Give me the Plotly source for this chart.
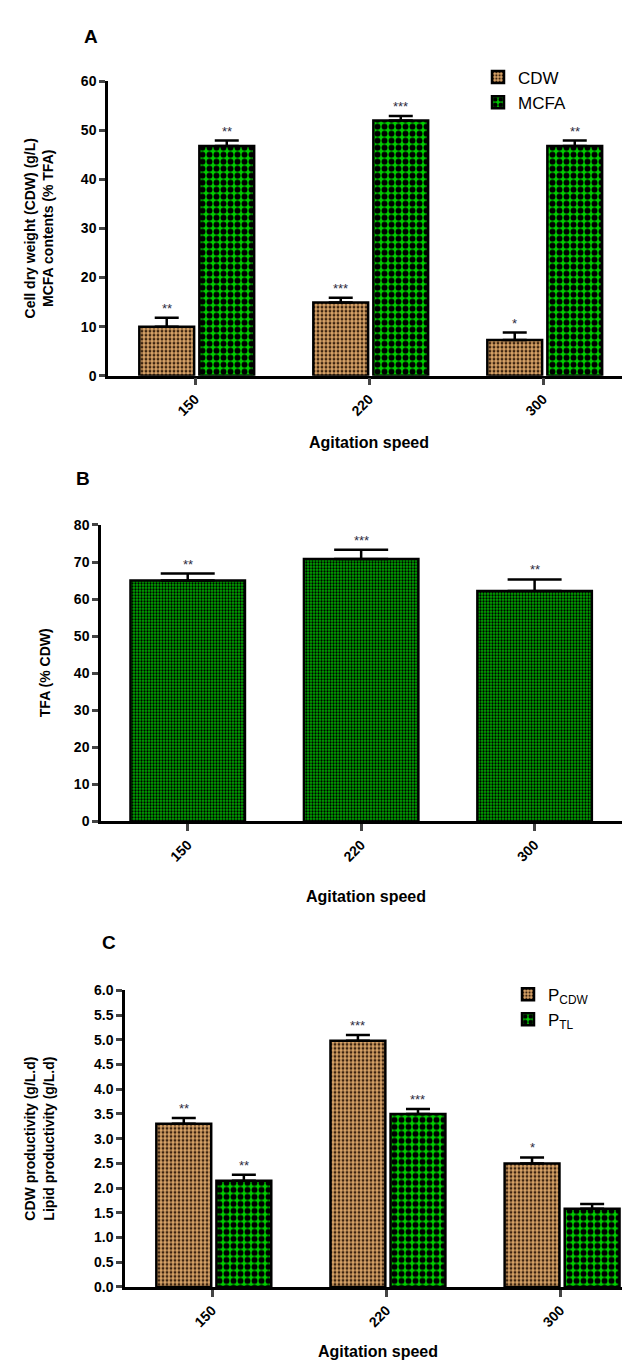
import plotly.graph_objects as go

categories = ["150", "220", "300"]

# Panel A
cdw_a = [10.0, 14.9, 7.3]
cdw_a_err = [1.8, 1.0, 1.5]
cdw_a_sig = ["**", "***", "*"]
mcfa_a = [46.8, 52.0, 46.8]
mcfa_a_err = [1.1, 0.9, 1.1]
mcfa_a_sig = ["**", "***", "**"]

# Panel B
tfa_b = [65.0, 70.8, 62.2]
tfa_b_err = [1.9, 2.5, 3.1]
tfa_b_sig = ["**", "***", "**"]

# Panel C
pcdw_c = [3.30, 4.98, 2.50]
pcdw_c_err = [0.12, 0.12, 0.12]
pcdw_c_sig = ["**", "***", "*"]
ptl_c = [2.15, 3.50, 1.58]
ptl_c_err = [0.12, 0.10, 0.10]
ptl_c_sig = ["**", "***", ""]

W, H = 630, 1363
FONT = "Liberation Sans, Arial, sans-serif"
xs = list(range(len(categories)))

def pat_tan():
    return dict(shape=".", fgcolor="#3d2410", bgcolor="#d9a468", size=4, solidity=0.42, fillmode="replace")

def pat_green():
    return dict(shape=".", fgcolor="#000000", bgcolor="#00cc00", size=7, solidity=0.55, fillmode="replace")

def pat_green_fine():
    return dict(shape=".", fgcolor="#000000", bgcolor="#00aa00", size=3, solidity=0.45, fillmode="replace")

fig = go.Figure()

OFF1, OFF2, BW = -0.32, 0.025, 0.315
def bar(x_axis, y_axis, vals, errs, pattern, name, offset, width, cap, legend, showlegend):
    return go.Bar(
        x=xs, y=vals, name=name, xaxis=x_axis, yaxis=y_axis,
        offset=offset, width=width,
        marker=dict(color=pattern["bgcolor"], pattern=pattern, line=dict(color="black", width=2.5)),
        error_y=dict(type="data", array=errs, arrayminus=[0] * len(errs), symmetric=False,
                     color="black", thickness=2.5, width=cap),
        legend=legend, showlegend=showlegend,
    )

fig.add_trace(bar("x", "y", cdw_a, cdw_a_err, pat_tan(), "CDW", OFF1, BW, 12, "legend", True))
fig.add_trace(bar("x", "y", mcfa_a, mcfa_a_err, pat_green(), "MCFA", OFF2, BW, 12, "legend", True))
fig.add_trace(bar("x2", "y2", tfa_b, tfa_b_err, pat_green_fine(), "TFA", -0.33, 0.66, 27, "legend", False))
fig.add_trace(bar("x3", "y3", pcdw_c, pcdw_c_err, pat_tan(), "P<sub>CDW</sub>", OFF1, BW, 12, "legend2", True))
fig.add_trace(bar("x3", "y3", ptl_c, ptl_c_err, pat_green(), "P<sub>TL</sub>", OFF2, BW, 12, "legend2", True))

annotations = []
def add_sig(xref, yref, centers, vals, errs, sigs):
    for c, v, e, s in zip(centers, vals, errs, sigs):
        if s:
            annotations.append(dict(x=c, y=v + e, xref=xref, yref=yref, text=s, showarrow=False,
                                    yanchor="bottom", yshift=0,
                                    font=dict(family=FONT, size=13, color="#2b2b3c")))

add_sig("x", "y", [i + OFF1 + BW / 2 for i in xs], cdw_a, cdw_a_err, cdw_a_sig)
add_sig("x", "y", [i + OFF2 + BW / 2 for i in xs], mcfa_a, mcfa_a_err, mcfa_a_sig)
add_sig("x2", "y2", xs, tfa_b, tfa_b_err, tfa_b_sig)
add_sig("x3", "y3", [i + OFF1 + BW / 2 for i in xs], pcdw_c, pcdw_c_err, pcdw_c_sig)
add_sig("x3", "y3", [i + OFF2 + BW / 2 for i in xs], ptl_c, ptl_c_err, ptl_c_sig)

def px(xp):
    return xp / W

def py(yp):
    return 1 - yp / H

# panel letters
for txt, xp, yp in [("A", 74, 21), ("B", 66, 468), ("C", 92, 938)]:
    annotations.append(dict(x=px(xp), y=py(yp), xref="paper", yref="paper", text="<b>%s</b>" % txt,
                            showarrow=False, xanchor="left", yanchor="middle",
                            font=dict(family=FONT, size=19, color="black")))

XT = dict(family=FONT, size=16, color="black")
YT = dict(family=FONT, size=14, color="black")

# x axis titles
for xc, yp in [((100 + 622) / 2, 432), ((93 + 622) / 2, 891), ((117 + 622) / 2, 1351)]:
    annotations.append(dict(x=px(xc), y=py(yp), xref="paper", yref="paper", text="<b>Agitation speed</b>",
                            showarrow=False, xanchor="center", yanchor="middle", font=XT))

# y axis titles
for txt, xc, yc in [("<b>Cell dry weight (CDW) (g/L)</b><br><b>MCFA contents (% TFA)</b>", 31, 215),
                    ("<b>TFA (% CDW)</b>", 37, 665),
                    ("<b>CDW productivity (g/L.d)</b><br><b>Lipid productivity (g/L.d)</b>", 31, 1136)]:
    annotations.append(dict(x=px(xc), y=py(yc), xref="paper", yref="paper", text=txt, textangle=-90,
                            showarrow=False, xanchor="center", yanchor="middle", font=YT))

tickfont = dict(family=FONT, size=14, color="black", weight="bold")

def xaxis(dom, anchor, rng):
    return dict(domain=dom, anchor=anchor, range=rng, tickmode="array", tickvals=xs,
                ticktext=categories, tickangle=-45, ticks="outside", ticklen=7, tickwidth=2.5,
                showline=True, linewidth=2.5, linecolor="black", showgrid=False, zeroline=False,
                tickfont=tickfont)

def yaxis(dom, anchor, rng, dtick, fmt):
    return dict(domain=dom, anchor=anchor, range=rng, dtick=dtick, tickformat=fmt, ticks="outside",
                ticklen=6, tickwidth=2.5, showline=True, linewidth=2.5, linecolor="black",
                showgrid=False, zeroline=False, tickfont=tickfont)

fig.update_layout(
    width=W, height=H, margin=dict(l=0, r=0, t=0, b=0),
    plot_bgcolor="white", paper_bgcolor="white",
    font=dict(family=FONT),
    xaxis=xaxis([px(100), px(622)], "y", [-0.5, 2.5]),
    yaxis=yaxis([py(364), py(66)], "x", [0, 60], 10, "d"),
    xaxis2=xaxis([px(93), px(622)], "y2", [-0.5, 2.55]),
    yaxis2=yaxis([py(815), py(515)], "x2", [0, 80], 10, "d"),
    xaxis3=xaxis([px(117), px(622)], "y3", [-0.5, 2.40]),
    yaxis3=yaxis([py(1286), py(986)], "x3", [0, 6], 0.5, ".1f"),
    legend=dict(x=px(470), y=py(44), xanchor="left", yanchor="top", bgcolor="rgba(0,0,0,0)",
                font=dict(family=FONT, size=17, color="black"), tracegroupgap=0, itemwidth=30),
    legend2=dict(x=px(500), y=py(972), xanchor="left", yanchor="top", bgcolor="rgba(0,0,0,0)",
                 font=dict(family=FONT, size=17, color="black"), tracegroupgap=0, itemwidth=30),
    annotations=annotations,
)

fig.write_html("out.html")
